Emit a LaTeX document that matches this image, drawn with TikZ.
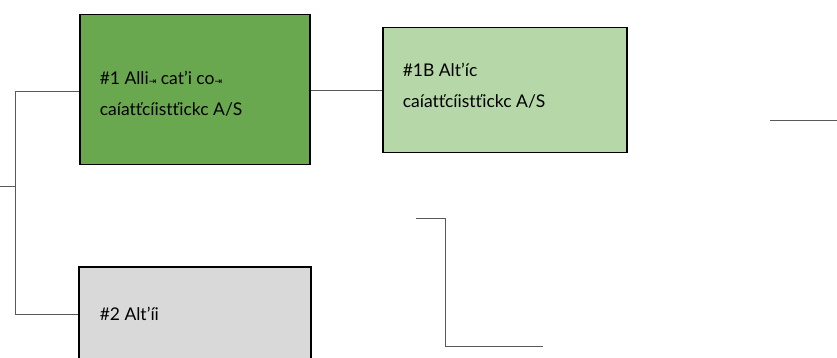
\documentclass[tikz,border=0pt]{standalone}
\usepackage{fontspec}
\setmainfont{Lato}
\newfontfamily\symfont{DejaVu Sans}
\newcommand{\tabmark}{{\symfont\fontsize{9}{9}\selectfont ⇥}}
\definecolor{darkleaf}{RGB}{106,168,79}
\definecolor{paleleaf}{RGB}{182,215,168}
\definecolor{boxgray}{RGB}{217,217,217}

\begin{document}
\begin{tikzpicture}[x=1pt, y=-1pt, every node/.style={rectangle, draw=black, line width=1.5pt, anchor=north west, inner sep=0pt, font=\fontsize{17.5}{31}\selectfont}, link/.style={draw=black!65, line width=0.8pt}]
\useasboundingbox (0,0) rectangle (837,358);
\clip (0,0) rectangle (837,358);
\node[fill=darkleaf, minimum width=230, minimum height=150] (N1) at (79,14) {};
\node[fill=paleleaf, minimum width=244, minimum height=125] (N1B) at (382,27) {};
\node[fill=boxgray, minimum width=232, minimum height=120] (N2) at (78,266) {};
\node[draw=none, anchor=west, align=left] at (99,94) {\#1 Alli\tabmark{} catʼi co\tabmark\\caíatťcíistťickc A/S};
\node[draw=none, anchor=west, align=left] at (402,86) {\#1B Altʼíc\\caíatťcíistťickc A/S};
\node[draw=none, anchor=west] at (99,314) {\#2 Altʼíi};
\coordinate (J) at (15,186);
\coordinate (L0) at (0,186);
\draw[link] (N1.west |- 0,91) -| (15,91) -- (15,314) -- (N2.west |- 0,314);
\draw[link] (L0) -- (J);
\draw[link] (N1.east |- 0,90) -- (N1B.west |- 0,90);
\coordinate (R0) at (770,120);
\coordinate (R1) at (837,120);
\draw[link] (R0) -- (R1);
\coordinate (S0) at (416,218);
\coordinate (S1) at (543,346);
\draw[link] (S0) -- (445,218) |- (S1);
\end{tikzpicture}
\end{document}
